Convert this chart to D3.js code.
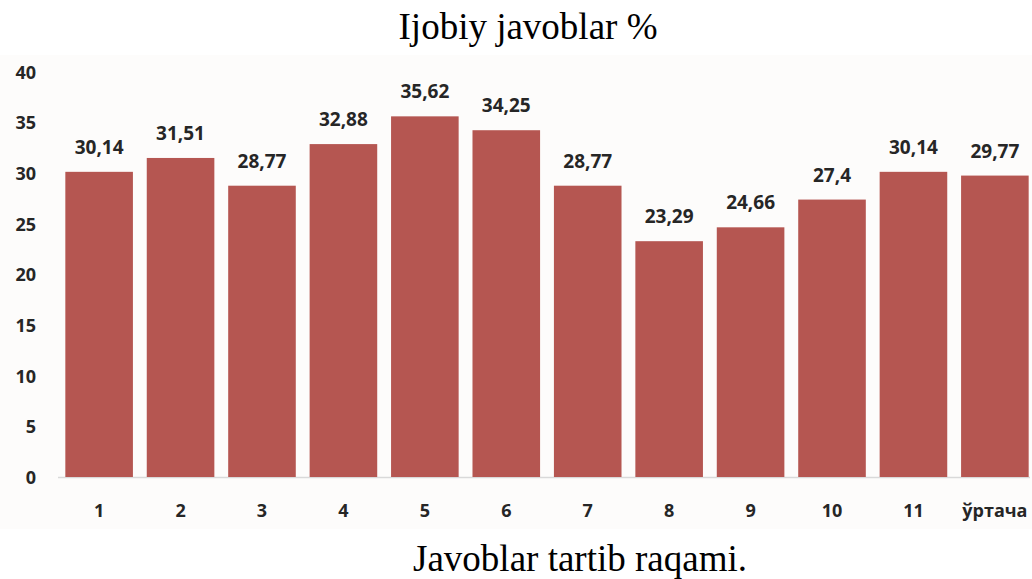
<!DOCTYPE html>
<html><head><meta charset="utf-8">
<script src="https://cdn.jsdelivr.net/npm/d3@7"></script>
<style>body{margin:0;background:#fff}svg{display:block}</style>
</head><body>
<svg id="c" width="1032" height="579"></svg>
<script>
const categories = ["1","2","3","4","5","6","7","8","9","10","11","ўртача"];
const values = [30.14,31.51,28.77,32.88,35.62,34.25,28.77,23.29,24.66,27.4,30.14,29.77];
const valueLabels = ["30,14","31,51","28,77","32,88","35,62","34,25","28,77","23,29","24,66","27,4","30,14","29,77"];
const yTicks = [0,5,10,15,20,25,30,35,40];
const title = "Ijobiy javoblar %";
const xTitle = "Javoblar tartib raqami.";

const svg = d3.select("#c");
svg.append("rect").attr("x",0).attr("y",55).attr("width",1032).attr("height",474).attr("fill","#fdfcfb");

const x = d3.scaleBand().domain(categories).range([58,1036]).paddingInner(0.17).paddingOuter(0.09);
const y = d3.scaleLinear().domain([0,40]).range([477,72]);

svg.append("line").attr("x1",58).attr("x2",1030).attr("y1",y(0)+0.5).attr("y2",y(0)+0.5)
  .attr("stroke","#d9d9d9").attr("stroke-width",1.5);

svg.selectAll("rect.bar").data(values).enter().append("rect").attr("class","bar")
  .attr("x",(d,i)=>x(categories[i])).attr("width",x.bandwidth())
  .attr("y",d=>y(d)).attr("height",d=>y(0)-y(d)).attr("fill","#b55651");

const font = "'Open Sans', sans-serif";
svg.selectAll("text.val").data(values).enter().append("text").attr("class","val")
  .attr("x",(d,i)=>x(categories[i])+x.bandwidth()/2).attr("y",d=>y(d)-18)
  .attr("text-anchor","middle").attr("font-family",font).attr("font-weight","bold")
  .attr("font-size",19).attr("fill","#262626").text((d,i)=>valueLabels[i]);

const yAxis = d3.axisLeft(y).tickValues(yTicks).tickSize(0).tickPadding(0);
const gy = svg.append("g").attr("transform","translate(36,0)").call(yAxis);
gy.select(".domain").remove();
gy.selectAll("text").attr("font-family",font).attr("font-weight","bold").attr("font-size",18)
  .attr("fill","#262626").attr("text-anchor","end").attr("dy","0.35em");

const xAxis = d3.axisBottom(x).tickSize(0).tickPadding(0);
const gx = svg.append("g").attr("transform","translate(0,504)").call(xAxis);
gx.select(".domain").remove();
gx.selectAll("text").attr("font-family",font).attr("font-weight","bold").attr("font-size",18)
  .attr("fill","#262626");

svg.append("text").attr("x",528).attr("y",39).attr("text-anchor","middle")
  .attr("font-family","'Liberation Serif', serif").attr("font-size",37)
  .attr("fill","#000").text(title);
svg.append("text").attr("x",580).attr("y",571).attr("text-anchor","middle")
  .attr("font-family","'Liberation Serif', serif").attr("font-size",37)
  .attr("fill","#000").text(xTitle);
</script>
</body></html>
